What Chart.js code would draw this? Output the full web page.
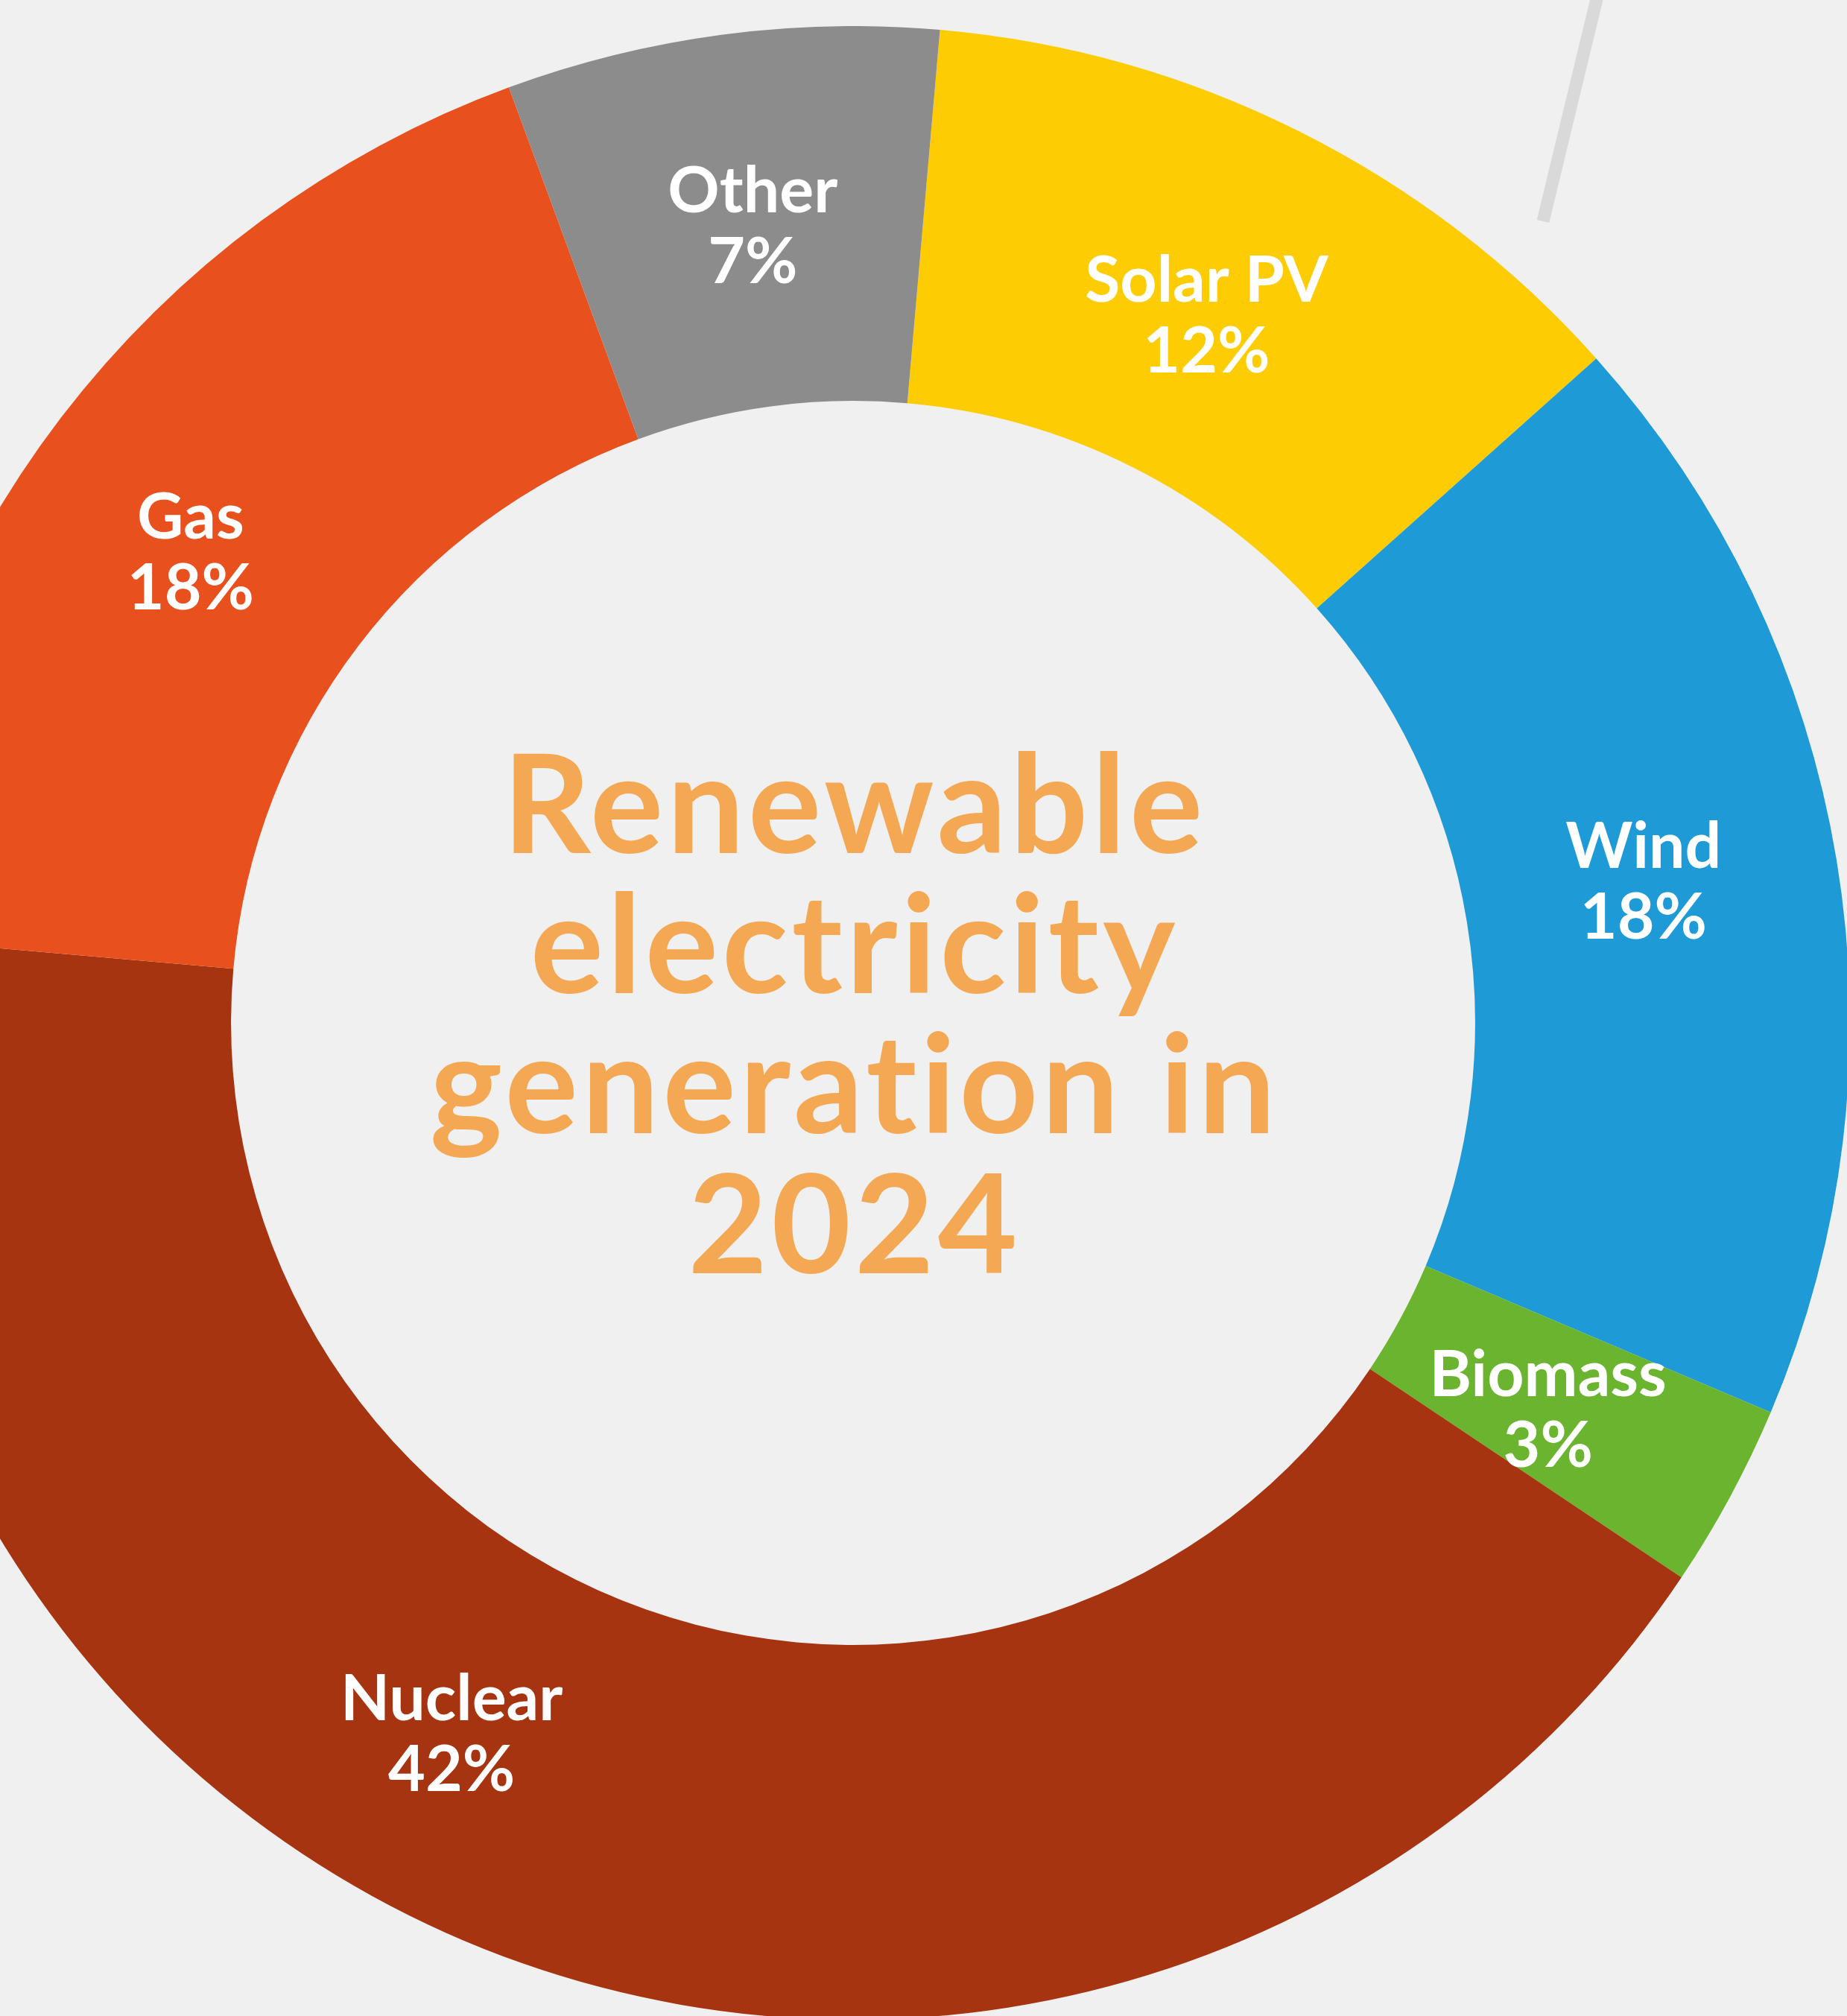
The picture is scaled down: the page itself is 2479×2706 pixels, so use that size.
<!DOCTYPE html>
<html>
<head>
<meta charset="utf-8">
<script src="https://cdn.jsdelivr.net/npm/chart.js@4"></script>
<style>
  html, body { margin: 0; padding: 0; background: #f0f0f0; overflow: hidden; }
  body { width: 2479px; height: 2706px; position: relative; }
  #pie { position: absolute; left: -193px; top: 35px; }
  #deco { position: absolute; left: 0; top: 0; }
</style>
</head>
<body>
<svg id="deco" width="2479" height="400">
  <line x1="2071" y1="297" x2="2150" y2="-30" stroke="#d9d9d9" stroke-width="17" />
</svg>
<canvas id="pie" width="2676" height="2676"></canvas>
<script>
const labels = ['Solar PV', 'Wind', 'Biomass', 'Nuclear', 'Gas', 'Other'];
const shares = [12, 18, 3, 42, 18, 7];
const colours = ['#fecc02', '#1e9bd7', '#6ab42f', '#a73410', '#e8501d', '#8c8c8c'];
const title = ['Renewable', 'electricity', 'generation in', '2024'];

// hand placement of the labels relative to each slice's centre point
const nudge = [[-12, 20], [-11, -14], [-23, 1], [-178, -72], [-26, 27], [9, 6]];

const sliceLabels = {
  id: 'sliceLabels',
  afterDatasetsDraw(chart) {
    const ctx = chart.ctx;
    const meta = chart.getDatasetMeta(0);
    ctx.save();
    ctx.fillStyle = '#ffffff';
    ctx.textAlign = 'center';
    ctx.textBaseline = 'alphabetic';
    ctx.font = 'bold 86px Lato';
    meta.data.forEach((arc, i) => {
      const p = arc.getCenterPoint();
      const x = p.x + nudge[i][0];
      const y = p.y + nudge[i][1];
      ctx.fillText(labels[i], x, y - 17);
      ctx.fillText(shares[i] + '%', x, y + 78);
    });
    // centre title
    const a = meta.data[0];
    ctx.fillStyle = '#f4a853';
    ctx.font = 'bold 184px Lato';
    ctx.letterSpacing = '5px';
    title.forEach((t, i) => {
      ctx.fillText(t, a.x + 2, a.y - 228 + i * 188);
    });
    ctx.restore();
  }
};

new Chart(document.getElementById('pie').getContext('2d'), {
  type: 'doughnut',
  data: {
    labels: labels,
    datasets: [{
      data: shares,
      backgroundColor: colours,
      borderWidth: 0
    }]
  },
  options: {
    responsive: false,
    animation: false,
    rotation: 5,
    cutout: '62.4%',
    plugins: {
      legend: { display: false },
      tooltip: { enabled: false }
    }
  },
  plugins: [sliceLabels]
});
</script>
</body>
</html>
